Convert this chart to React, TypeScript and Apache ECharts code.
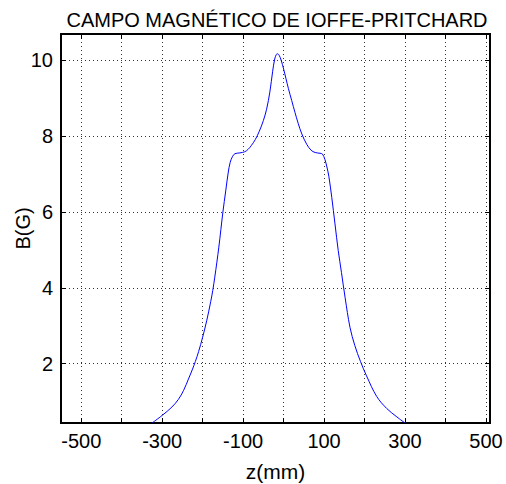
import React, { useEffect, useRef } from "react";
import * as echarts from "echarts";

const zValues = [
  -325, -300, -276, -260, -247, -235, -225, -218, -210, -200, -190, -180, -175, -170, -160, -150,
  -143, -137, -132, -126, -120, -108, -96, -88, -80, -70, -60, -50, -42, -34, -27, -22, -18,
  -15, -11, -6, 0, 6, 12, 20, 28, 36, 45, 57, 68, 78, 90, 96, 102, 107, 112, 119, 127, 135,
  143, 152, 164, 176, 190, 205, 230, 255, 280, 300,
];
const bValues = [
  0.44, 0.64, 0.86, 1.06, 1.3, 1.6, 1.86, 2.06, 2.32, 2.7, 3.13, 3.64, 3.93, 4.28, 5.07, 5.99,
  6.55, 7.02, 7.3, 7.46, 7.53, 7.55, 7.58, 7.64, 7.74, 7.9, 8.12, 8.4, 8.7, 9.15, 9.7, 10.02, 10.14,
  10.16, 10.12, 9.99, 9.76, 9.5, 9.24, 8.93, 8.62, 8.33, 8.05, 7.78, 7.62, 7.56, 7.54, 7.52, 7.38, 7.18, 6.92, 6.38, 5.68, 4.98,
  4.4, 3.74, 2.96, 2.48, 2.06, 1.68, 1.14, 0.82, 0.6, 0.44,
];
const xTicks = [-500, -400, -300, -200, -100, 0, 100, 200, 300, 400, 500];
const xLabels = [-500, -300, -100, 100, 300, 500];
const yTicks = [2, 4, 6, 8, 10];
const xRange = [-550, 510];
const yRange = [0.44, 10.68];
const titleText = "CAMPO MAGNÉTICO DE IOFFE-PRITCHARD";

const FONT = "Liberation Sans, Arial, sans-serif";

export default function App() {
  const ref = useRef<HTMLDivElement>(null);
  useEffect(() => {
    if (!ref.current) return;
    const chart = echarts.init(ref.current, undefined, { renderer: "svg" });
    const gridLine = { show: true, lineStyle: { color: "#333", type: [1, 3] as any, width: 1 } };
    const tickIn = { show: true, inside: true, length: 5, lineStyle: { color: "#000", width: 1 } };
    chart.setOption({
      animation: false,
      backgroundColor: "#fff",
      title: {
        text: titleText,
        left: 272,
        textAlign: "center",
        top: 5,
        textStyle: { fontFamily: FONT, fontSize: 20, fontWeight: "normal", color: "#000" },
      },
      grid: {
        left: 61,
        right: 16,
        top: 34,
        bottom: 61,
        show: true,
        borderColor: "#000",
        borderWidth: 2,
        backgroundColor: "transparent",
        containLabel: false,
        outerBoundsMode: "none",
      },
      xAxis: [
        {
          type: "value",
          min: xRange[0],
          max: xRange[1],
          position: "bottom",
          axisLine: { show: false, onZero: false },
          axisTick: { ...tickIn, customValues: xTicks },
          axisLabel: {
            customValues: xLabels,
            margin: 8,
            fontFamily: FONT,
            fontSize: 20,
            color: "#000",
          },
          splitLine: { ...gridLine, customValues: xTicks },
          name: "z(mm)",
          nameLocation: "middle",
          nameGap: 38,
          nameMoveOverlap: false,
          nameTextStyle: { fontFamily: FONT, fontSize: 21, color: "#000" },
        },
        {
          type: "value",
          min: xRange[0],
          max: xRange[1],
          position: "top",
          axisLine: { show: false, onZero: false },
          axisTick: { ...tickIn, customValues: xTicks },
          axisLabel: { show: false, customValues: xTicks },
          splitLine: { show: false },
        },
      ],
      yAxis: [
        {
          type: "value",
          min: yRange[0],
          max: yRange[1],
          position: "left",
          axisLine: { show: false, onZero: false },
          axisTick: { ...tickIn, customValues: yTicks },
          axisLabel: {
            customValues: yTicks,
            margin: 8,
            fontFamily: FONT,
            fontSize: 20,
            color: "#000",
          },
          splitLine: { ...gridLine, customValues: yTicks },
          name: "B(G)",
          nameLocation: "middle",
          nameGap: 28,
          nameMoveOverlap: false,
          nameTextStyle: { fontFamily: FONT, fontSize: 20, color: "#000" },
        },
        {
          type: "value",
          min: yRange[0],
          max: yRange[1],
          position: "right",
          axisLine: { show: false, onZero: false },
          axisTick: { ...tickIn, customValues: yTicks },
          axisLabel: { show: false, customValues: yTicks },
          splitLine: { show: false },
        },
      ],
      series: [
        {
          type: "line",
          data: zValues.map((z, i) => [z, bValues[i]]),
          showSymbol: false,
          smooth: 0.35,
          clip: true,
          lineStyle: { color: "#0000ff", width: 1 },
        },
      ],
    });
    return () => chart.dispose();
  }, []);
  return <div ref={ref} style={{ width: 506, height: 484, position: "absolute", left: 0, top: 0 }} />;
}
